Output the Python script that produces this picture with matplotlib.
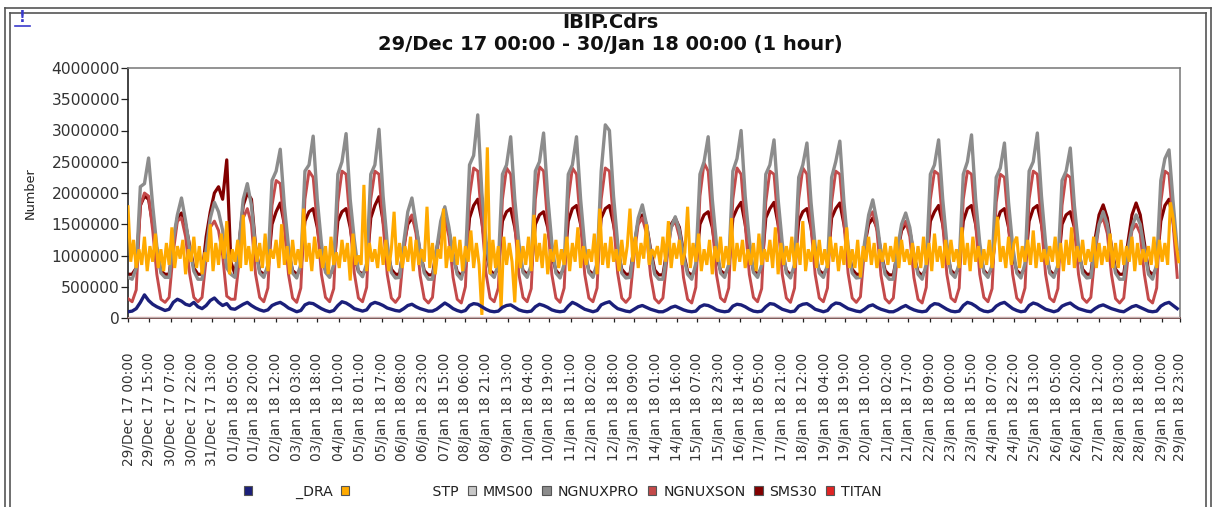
import matplotlib
matplotlib.use("Agg")
import matplotlib.pyplot as plt
import numpy as np
from matplotlib.patches import Patch
from matplotlib.lines import Line2D
from datetime import datetime

# ---------------- data (values in thousands, per day) ----------------
# NGNUXPRO / NGNUXSON / SMS30 / DRA : 3-hourly samples 00,03,...,21 for each day (29/Dec .. 29/Jan)
ngnuxpro = [
    [650, 620, 800, 2100, 2150, 2560, 1800, 1150],
    [720, 650, 650, 1250, 1650, 1920, 1550, 1100],
    [750, 620, 620, 1100, 1600, 1850, 1700, 1400],
    [800, 700, 650, 1200, 1900, 2150, 1800, 1100],
    [720, 650, 850, 2200, 2350, 2700, 1800, 1150],
    [720, 640, 860, 2350, 2450, 2910, 1900, 1200],
    [730, 650, 850, 2300, 2500, 2950, 1900, 1250],
    [740, 660, 870, 2300, 2450, 3020, 1950, 1200],
    [730, 640, 650, 1200, 1700, 1920, 1500, 1050],
    [720, 620, 620, 1100, 1550, 1780, 1450, 1000],
    [700, 620, 900, 2450, 2600, 3250, 2000, 1250],
    [720, 650, 860, 2300, 2450, 2900, 1900, 1200],
    [730, 650, 850, 2350, 2500, 2960, 1950, 1200],
    [720, 640, 860, 2300, 2450, 2900, 1900, 1150],
    [730, 650, 880, 2350, 3090, 3000, 1950, 1200],
    [720, 640, 650, 1150, 1600, 1810, 1500, 1050],
    [700, 620, 620, 1050, 1450, 1620, 1400, 1000],
    [700, 620, 870, 2300, 2500, 2900, 1900, 1200],
    [720, 650, 860, 2350, 2550, 3000, 1950, 1250],
    [730, 650, 850, 2300, 2450, 2850, 1900, 1200],
    [720, 640, 860, 2250, 2450, 2800, 1850, 1150],
    [720, 650, 850, 2250, 2500, 2830, 1850, 1150],
    [720, 640, 650, 1200, 1650, 1890, 1550, 1050],
    [700, 620, 620, 1100, 1500, 1680, 1450, 1000],
    [700, 620, 860, 2300, 2450, 2850, 1900, 1200],
    [720, 650, 870, 2300, 2500, 2930, 1900, 1200],
    [730, 650, 850, 2250, 2400, 2800, 1850, 1150],
    [720, 640, 870, 2350, 2500, 2960, 1950, 1200],
    [720, 650, 850, 2200, 2350, 2720, 1800, 1150],
    [720, 640, 650, 1150, 1500, 1700, 1500, 1100],
    [720, 620, 620, 1100, 1450, 1650, 1500, 1100],
    [700, 620, 860, 2200, 2550, 2690, 1850, 1100],
]
ngnuxson = [
    [310, 260, 450, 1800, 2000, 1950, 1400, 700],
    [300, 250, 330, 1050, 1550, 1600, 1300, 700],
    [330, 260, 330, 950, 1450, 1550, 1400, 1000],
    [350, 300, 300, 900, 1600, 1750, 1500, 700],
    [330, 260, 480, 1800, 2200, 2150, 1450, 700],
    [320, 250, 480, 1900, 2350, 2250, 1500, 700],
    [330, 260, 470, 1850, 2350, 2300, 1500, 720],
    [320, 260, 490, 1900, 2350, 2300, 1500, 700],
    [320, 250, 340, 1050, 1550, 1650, 1350, 680],
    [310, 240, 330, 1000, 1500, 1600, 1300, 650],
    [300, 240, 500, 1950, 2400, 2350, 1550, 720],
    [320, 260, 480, 1900, 2400, 2300, 1500, 700],
    [330, 260, 470, 1900, 2420, 2350, 1500, 700],
    [320, 250, 480, 1900, 2400, 2300, 1500, 700],
    [320, 260, 480, 1900, 2400, 2350, 1550, 720],
    [320, 250, 330, 1000, 1500, 1600, 1350, 680],
    [310, 240, 320, 950, 1450, 1550, 1300, 650],
    [300, 240, 490, 1950, 2480, 2350, 1500, 700],
    [320, 260, 480, 1900, 2400, 2300, 1500, 700],
    [330, 260, 470, 1850, 2350, 2300, 1500, 700],
    [320, 250, 480, 1900, 2400, 2300, 1450, 700],
    [320, 260, 480, 1850, 2350, 2300, 1500, 720],
    [320, 250, 340, 1100, 1600, 1700, 1400, 680],
    [310, 240, 320, 1000, 1450, 1550, 1300, 650],
    [300, 240, 490, 1900, 2350, 2300, 1500, 700],
    [320, 260, 480, 1900, 2350, 2300, 1500, 700],
    [330, 260, 470, 1850, 2300, 2250, 1450, 700],
    [320, 250, 480, 1900, 2350, 2300, 1500, 700],
    [320, 260, 470, 1800, 2300, 2250, 1450, 700],
    [320, 250, 330, 1000, 1500, 1600, 1350, 700],
    [310, 240, 320, 950, 1400, 1500, 1350, 700],
    [300, 240, 480, 1850, 2350, 2300, 1500, 650],
]
sms30 = [
    [700, 700, 800, 1800, 1950, 1900, 1500, 1100],
    [750, 700, 700, 1200, 1600, 1680, 1500, 1150],
    [800, 700, 700, 1300, 1700, 2000, 2100, 1900],
    [2530, 900, 700, 1200, 1800, 2000, 1900, 1150],
    [750, 700, 780, 1500, 1700, 1840, 1500, 1050],
    [760, 700, 780, 1550, 1700, 1750, 1450, 1000],
    [760, 690, 780, 1550, 1700, 1750, 1450, 1000],
    [750, 700, 790, 1600, 1800, 1940, 1550, 1100],
    [780, 700, 700, 1150, 1500, 1600, 1450, 1050],
    [760, 690, 690, 1100, 1400, 1500, 1400, 1000],
    [740, 680, 800, 1600, 1800, 1900, 1550, 1050],
    [760, 700, 790, 1550, 1700, 1750, 1450, 1000],
    [760, 700, 780, 1500, 1650, 1700, 1450, 1000],
    [760, 690, 790, 1550, 1750, 1800, 1500, 1050],
    [760, 700, 800, 1600, 1750, 1800, 1500, 1100],
    [780, 700, 700, 1150, 1550, 1650, 1500, 1100],
    [770, 690, 690, 1100, 1500, 1600, 1450, 1050],
    [740, 680, 790, 1500, 1650, 1700, 1450, 1000],
    [760, 700, 800, 1600, 1750, 1850, 1500, 1050],
    [760, 700, 790, 1600, 1750, 1850, 1500, 1050],
    [760, 690, 790, 1550, 1700, 1750, 1450, 1000],
    [760, 700, 800, 1600, 1750, 1840, 1500, 1100],
    [780, 700, 700, 1150, 1500, 1600, 1450, 1050],
    [760, 690, 690, 1050, 1400, 1500, 1400, 1000],
    [740, 680, 790, 1550, 1700, 1800, 1500, 1050],
    [760, 700, 800, 1550, 1750, 1800, 1500, 1050],
    [760, 690, 790, 1500, 1700, 1750, 1450, 1000],
    [760, 700, 800, 1550, 1750, 1800, 1500, 1050],
    [760, 690, 790, 1500, 1650, 1700, 1450, 1050],
    [780, 700, 700, 1250, 1650, 1810, 1600, 1150],
    [780, 700, 700, 1200, 1650, 1840, 1650, 1200],
    [760, 690, 800, 1550, 1800, 1900, 1550, 1000],
]
dra = [
    [100, 110, 150, 250, 370, 280, 220, 180],
    [150, 120, 140, 250, 300, 270, 220, 200],
    [250, 180, 150, 200, 280, 320, 250, 200],
    [230, 150, 140, 180, 220, 250, 200, 160],
    [130, 110, 130, 200, 230, 250, 210, 160],
    [130, 100, 120, 210, 240, 230, 190, 150],
    [120, 100, 120, 200, 260, 240, 200, 150],
    [130, 110, 130, 220, 250, 230, 200, 160],
    [140, 120, 110, 150, 200, 220, 180, 150],
    [130, 110, 110, 140, 190, 240, 200, 150],
    [120, 100, 120, 200, 230, 220, 180, 140],
    [110, 100, 110, 170, 200, 210, 170, 130],
    [110, 100, 110, 180, 220, 200, 170, 130],
    [110, 100, 110, 190, 250, 220, 180, 140],
    [120, 100, 120, 210, 240, 260, 200, 150],
    [130, 110, 100, 140, 180, 200, 170, 140],
    [120, 100, 100, 130, 170, 190, 160, 130],
    [110, 100, 110, 180, 210, 200, 170, 130],
    [110, 100, 110, 190, 220, 210, 180, 140],
    [110, 100, 110, 180, 230, 220, 180, 140],
    [120, 100, 110, 190, 220, 230, 190, 140],
    [120, 100, 120, 200, 240, 230, 190, 150],
    [130, 110, 100, 140, 190, 210, 170, 140],
    [120, 100, 100, 130, 170, 200, 160, 130],
    [110, 100, 110, 190, 230, 220, 180, 140],
    [110, 100, 110, 200, 250, 230, 190, 140],
    [110, 100, 120, 190, 230, 250, 200, 150],
    [120, 100, 110, 200, 240, 220, 180, 140],
    [120, 100, 120, 190, 220, 240, 190, 150],
    [130, 110, 100, 150, 190, 210, 180, 150],
    [130, 110, 100, 140, 180, 200, 170, 140],
    [110, 100, 110, 190, 230, 250, 200, 150],
]
# STP : 2-hourly samples 00,02,...,22 for each day
stp = [
    [1780, 900, 1250, 800, 1100, 850, 1300, 750, 1150, 900, 1350, 800],
    [1100, 750, 1200, 850, 1450, 800, 1150, 950, 1250, 700, 1100, 900],
    [1300, 800, 1150, 700, 1050, 900, 1500, 750, 1200, 850, 1350, 950],
    [1550, 700, 1100, 900, 1250, 800, 1650, 850, 1150, 750, 1300, 900],
    [1200, 800, 1350, 750, 1100, 950, 1250, 800, 1500, 850, 1150, 700],
    [1250, 850, 1100, 800, 1750, 900, 1200, 750, 1300, 950, 1100, 800],
    [1150, 700, 1300, 850, 1050, 800, 1250, 900, 1200, 600, 1350, 850],
    [1000, 850, 2130, 750, 1200, 900, 1100, 800, 1300, 850, 1250, 750],
    [1100, 1700, 850, 1200, 800, 1150, 900, 1300, 750, 1250, 850, 1100],
    [900, 1780, 800, 1200, 700, 1100, 950, 1750, 800, 1150, 900, 1300],
    [850, 1250, 750, 1150, 900, 1400, 800, 1200, 850, 50, 1100, 2730],
    [700, 1250, 800, 1150, 150, 1300, 850, 1200, 900, 250, 1250, 800],
    [1150, 850, 1300, 750, 1650, 900, 1200, 800, 1350, 700, 1100, 900],
    [1250, 800, 1100, 850, 1300, 750, 1200, 900, 1450, 800, 1150, 850],
    [1100, 900, 1350, 700, 1750, 850, 1200, 800, 1300, 900, 1100, 750],
    [1250, 850, 1150, 1750, 900, 1300, 800, 1200, 950, 1500, 850, 1100],
    [1000, 1150, 850, 1300, 900, 1550, 800, 1200, 950, 1250, 850, 1050],
    [1780, 800, 1200, 900, 1350, 750, 1100, 850, 1250, 700, 1150, 900],
    [1300, 800, 1150, 850, 1600, 750, 1200, 900, 1250, 800, 1100, 850],
    [1200, 750, 1350, 850, 1100, 900, 1250, 800, 1450, 700, 1200, 850],
    [1150, 900, 1300, 800, 1200, 850, 1550, 750, 1100, 900, 1250, 800],
    [1250, 850, 1100, 800, 1300, 900, 1200, 750, 1150, 850, 1450, 800],
    [1100, 800, 1250, 650, 1150, 900, 1300, 850, 1200, 800, 1100, 900],
    [1200, 850, 1150, 900, 1300, 800, 1250, 900, 1100, 850, 1200, 800],
    [1150, 800, 1300, 850, 1200, 750, 1350, 900, 1150, 800, 1250, 850],
    [1250, 900, 1100, 800, 1450, 850, 1200, 750, 1300, 900, 1150, 800],
    [1100, 850, 1250, 800, 1200, 1620, 900, 1150, 800, 1300, 850, 1200],
    [1300, 800, 1150, 900, 1250, 850, 1400, 800, 1200, 900, 1100, 850],
    [1150, 900, 1300, 800, 1200, 750, 1250, 850, 1450, 800, 1150, 900],
    [1250, 850, 1100, 900, 1300, 800, 1200, 850, 1150, 900, 1350, 800],
    [1200, 800, 1250, 850, 1150, 900, 1300, 750, 1200, 850, 1100, 900],
    [1150, 850, 1300, 800, 1250, 900, 1200, 850, 1850, 1600, 1200, 900],
]
mms00 = [0, 0]
titan = [0, 0]

tick_labels = [
    "29/Dec 17 00:00", "29/Dec 17 15:00", "30/Dec 17 07:00", "30/Dec 17 22:00",
    "31/Dec 17 13:00", "01/Jan 18 05:00", "01/Jan 18 20:00", "02/Jan 18 12:00",
    "03/Jan 18 03:00", "03/Jan 18 18:00", "04/Jan 18 10:00", "05/Jan 18 01:00",
    "05/Jan 18 17:00", "06/Jan 18 08:00", "06/Jan 18 23:00", "07/Jan 18 15:00",
    "08/Jan 18 06:00", "08/Jan 18 21:00", "09/Jan 18 13:00", "10/Jan 18 04:00",
    "10/Jan 18 19:00", "11/Jan 18 11:00", "12/Jan 18 02:00", "12/Jan 18 18:00",
    "13/Jan 18 09:00", "14/Jan 18 01:00", "14/Jan 18 16:00", "15/Jan 18 07:00",
    "15/Jan 18 23:00", "16/Jan 18 14:00", "17/Jan 18 05:00", "17/Jan 18 21:00",
    "18/Jan 18 12:00", "19/Jan 18 04:00", "19/Jan 18 19:00", "20/Jan 18 10:00",
    "21/Jan 18 02:00", "21/Jan 18 17:00", "22/Jan 18 09:00", "23/Jan 18 00:00",
    "23/Jan 18 15:00", "24/Jan 18 07:00", "24/Jan 18 22:00", "25/Jan 18 13:00",
    "26/Jan 18 05:00", "26/Jan 18 20:00", "27/Jan 18 12:00", "28/Jan 18 03:00",
    "28/Jan 18 18:00", "29/Jan 18 10:00", "29/Jan 18 23:00",
]
legend_labels = ["        _DRA", "                 STP", "MMS00", "NGNUXPRO", "NGNUXSON", "SMS30", "TITAN"]
yticks = [0, 500000, 1000000, 1500000, 2000000, 2500000, 3000000, 3500000, 4000000]

# ---------------- figure ----------------
W, H = 1213, 507
fig = plt.figure(figsize=(W / 100, H / 100), dpi=100)
fig.patch.set_facecolor("white")

ax = fig.add_axes([128 / W, 1 - 318 / H, (1180 - 128) / W, (318 - 68) / H])

start = datetime(2017, 12, 29)
h3 = np.arange(0, 32 * 24, 3)
h2 = np.arange(0, 32 * 24, 2)
scale = 1000.0

col = {
    "DRA": "#1b1f7a", "STP": "#ffaa00", "MMS00": "#c8c8c8", "NGNUXPRO": "#8c8c8c",
    "NGNUXSON": "#c44a4a", "SMS30": "#820000", "TITAN": "#e02424",
}

ax.plot([0, 767], np.array(titan) * scale, color=col["TITAN"], lw=1.6, zorder=1)
ax.plot(h3, np.array(sms30).ravel() * scale, color=col["SMS30"], lw=2.3, zorder=2, solid_joinstyle="round")
ax.plot(h3, np.array(ngnuxson).ravel() * scale, color=col["NGNUXSON"], lw=2.1, zorder=3, solid_joinstyle="round")
ax.plot(h3, np.array(ngnuxpro).ravel() * scale, color=col["NGNUXPRO"], lw=2.4, zorder=4, solid_joinstyle="round")
ax.plot([0, 767], np.array(mms00) * scale, color=col["MMS00"], lw=1.2, zorder=5)
ax.plot(h2, np.array(stp).ravel() * scale, color=col["STP"], lw=2.2, zorder=6, solid_joinstyle="miter")
ax.plot(h3, np.array(dra).ravel() * scale, color=col["DRA"], lw=2.4, zorder=7, solid_joinstyle="round")

ax.set_xlim(0, 767)
ax.set_ylim(0, 4000000)
ax.set_yticks(yticks)
ax.set_yticklabels([str(v) for v in yticks])

tick_pos = [(datetime.strptime(t, "%d/%b %y %H:%M") - start).total_seconds() / 3600 for t in tick_labels]
ax.set_xticks(tick_pos)
ax.set_xticklabels(tick_labels, rotation=90, va="top", ha="center")

ax.tick_params(axis="y", labelsize=11.2, length=5, width=0.9, pad=0.8, colors="#222222", labelcolor="#333333")
ax.tick_params(axis="x", labelsize=9.8, length=3, width=0.9, pad=22, colors="#222222", labelcolor="#333333")

for s in ["top", "right"]:
    ax.spines[s].set_color("#808080")
    ax.spines[s].set_linewidth(1.2)
ax.spines["left"].set_color("#222222")
ax.spines["left"].set_linewidth(1.2)
ax.spines["bottom"].set_color("#6b3a3a")
ax.spines["bottom"].set_linewidth(1.2)

fig.text(30 / W, 1 - 193 / H, "Number", rotation=90, ha="center", va="center", fontsize=9.3, color="#222222")

fig.text(610 / W, 1 - 22 / H, "IBIP.Cdrs", ha="center", va="center", fontsize=14, fontweight="bold", color="#111111")
fig.text(610 / W, 1 - 45 / H, "29/Dec 17 00:00 - 30/Jan 18 00:00 (1 hour)", ha="center", va="center",
         fontsize=14, fontweight="bold", color="#111111")
fig.text(22 / W, 1 - 17 / H, "!", ha="center", va="center", fontsize=11, fontweight="bold", color="#3a3acc")
fig.add_artist(Line2D([15 / W, 30 / W], [1 - 26 / H, 1 - 26 / H], color="#3a3acc", lw=1.2))

# double frame
fc = "#555555"
for x in [5, 10]:
    fig.add_artist(Line2D([x / W, x / W], [0, 1 - (8 if x == 5 else 13) / H], color=fc, lw=1.2))
for x in [1206, 1211]:
    fig.add_artist(Line2D([x / W, x / W], [0, 1 - (13 if x == 1206 else 8) / H], color=fc, lw=1.2))
fig.add_artist(Line2D([5 / W, 1211 / W], [1 - 8 / H, 1 - 8 / H], color=fc, lw=1.2))
fig.add_artist(Line2D([10 / W, 1206 / W], [1 - 13 / H, 1 - 13 / H], color=fc, lw=1.2))

names = ["DRA", "STP", "MMS00", "NGNUXPRO", "NGNUXSON", "SMS30", "TITAN"]
handles = [Patch(facecolor=col[n], edgecolor="#555555", linewidth=0.8) for n in names]
fig.legend(handles, legend_labels, loc="center", bbox_to_anchor=(563 / W, 1 - 492 / H), ncol=7,
           frameon=False, fontsize=10.2, handlelength=0.6, handleheight=0.6, handletextpad=0.5,
           columnspacing=0.6, labelcolor="#222222")

fig.savefig("out.png", dpi=100, facecolor="white")
